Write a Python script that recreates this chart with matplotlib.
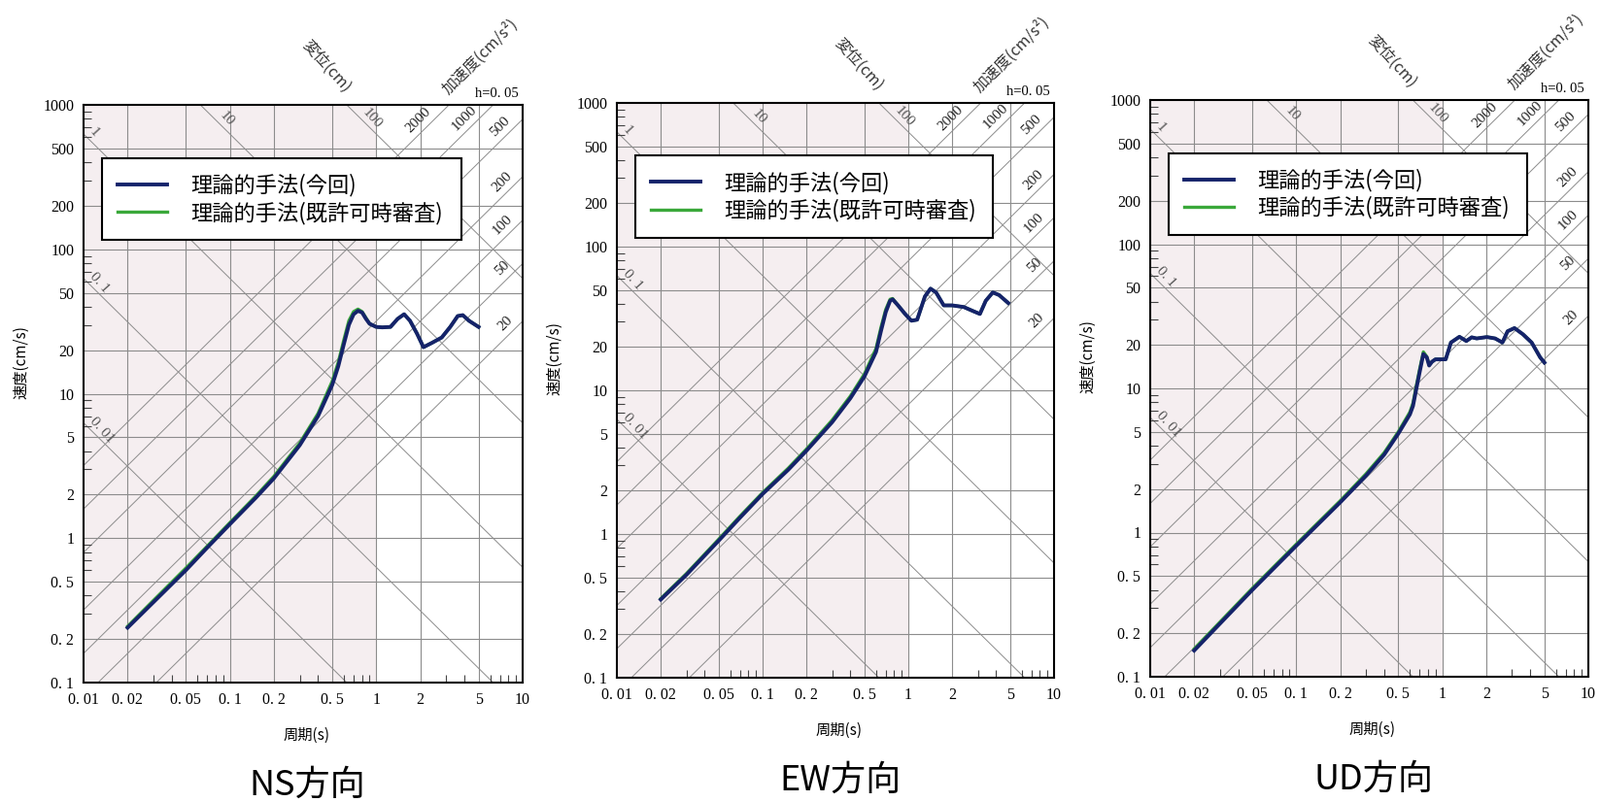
import numpy as np
import matplotlib.pyplot as plt

plt.rcParams['font.family'] = ['Noto Sans CJK JP', 'DejaVu Sans']

# period (s) / pseudo-velocity (cm/s)
T_ns = [0.02, 0.03, 0.05, 0.07, 0.1, 0.15, 0.2, 0.3, 0.4, 0.5, 0.55, 0.6, 0.65, 0.7, 0.75, 0.8,
        0.85, 0.9, 1.0, 1.1, 1.25, 1.4, 1.55, 1.7, 1.9, 2.1, 2.4, 2.8, 3.2, 3.6, 3.9, 4.3, 5.0]
V_ns = [0.24, 0.36, 0.6, 0.86, 1.25, 1.9, 2.6, 4.4, 7.0, 11.5, 15.5, 22, 30, 35.5, 37.5, 36.5,
        33, 30.5, 29, 28.8, 29, 33, 35.5, 32, 26, 21, 22.5, 24.5, 29, 34.5, 35, 32, 29]
V_ns_old = [0.245, 0.37, 0.62, 0.88, 1.28, 1.95, 2.68, 4.55, 7.3, 12.2, 16.5, 23.5, 32, 37, 38.5, 37,
            33.5, 30.5, 29, 28.8, 29, 33, 35.5, 32, 26, 21, 22.5, 24.5, 29, 34.5, 35, 32, 29]

T_ew = [0.02, 0.03, 0.05, 0.07, 0.1, 0.15, 0.2, 0.3, 0.4, 0.5, 0.6, 0.65, 0.7, 0.75, 0.78, 0.85,
        0.95, 1.05, 1.15, 1.3, 1.42, 1.55, 1.75, 2.0, 2.4, 2.8, 3.1, 3.4, 3.8, 4.2, 4.85]
V_ew = [0.35, 0.52, 0.9, 1.3, 1.9, 2.8, 3.8, 6.0, 8.8, 12.5, 18.5, 26, 35, 42, 43, 39,
        34, 30.5, 31, 45, 51, 48, 39, 39, 38, 35.5, 34, 42, 48, 46, 40.5]
V_ew_old = [0.355, 0.53, 0.92, 1.33, 1.94, 2.87, 3.9, 6.2, 9.1, 13.0, 19.5, 27.5, 36.5, 43, 43.5, 39,
            34, 30.5, 31, 45, 51, 48, 39, 39, 38, 35.5, 34, 42, 48, 46, 40.5]

T_ud = [0.02, 0.05, 0.1, 0.2, 0.3, 0.4, 0.5, 0.6, 0.63, 0.665, 0.7, 0.742, 0.783, 0.813, 0.85,
        0.897, 1.055, 1.146, 1.31, 1.46, 1.59, 1.72, 2.02, 2.3, 2.58, 2.8, 3.12, 3.57, 4.09, 4.68, 5.0]
V_ud = [0.152, 0.40, 0.81, 1.62, 2.48, 3.47, 4.86, 6.6, 7.56, 10, 13, 17.3, 16.4, 14.4, 15.3,
        15.9, 15.9, 20.8, 22.8, 21.3, 22.6, 22.2, 22.7, 22.2, 20.8, 24.9, 26.2, 23.7, 20.8, 16.4, 15.1]
V_ud_old = [0.156, 0.41, 0.83, 1.66, 2.55, 3.58, 5.0, 6.85, 7.9, 10.5, 13.6, 17.9, 16.6, 14.5, 15.3,
            15.9, 15.9, 20.8, 22.8, 21.3, 22.6, 22.2, 22.7, 22.2, 20.8, 24.9, 26.2, 23.7, 20.8, 16.4, 15.1]

titles = ['NS方向', 'EW方向', 'UD方向']
legend_labels = ['理論的手法(今回)', '理論的手法(既許可時審査)']

x_ticks = [0.01, 0.02, 0.05, 0.1, 0.2, 0.5, 1, 2, 5, 10]
x_ticklabels = ['0. 01', '0. 02', '0. 05', '0. 1', '0. 2', '0. 5', '1', '2', '5', '10']
y_ticks = [0.1, 0.2, 0.5, 1, 2, 5, 10, 20, 50, 100, 200, 500, 1000]
y_ticklabels = ['0. 1', '0. 2', '0. 5', '1', '2', '5', '10', '20', '50', '100', '200', '500', '1000']

disp_lines = [0.01, 0.1, 1, 10, 100]           # cm
disp_labels = ['0. 01', '0. 1', '1', '10', '100']
acc_lines = [20, 50, 100, 200, 500, 1000, 2000]  # cm/s2

NAVY = '#15236a'
GREEN = '#3aa83a'
GRID = '#8c8c8c'
SERIF = 'Liberation Serif'

# pixel boxes of the three frames: left, top, right, bottom
boxes = [(86, 108, 538, 703), (635, 106, 1085, 698), (1184, 103, 1635, 697)]
W, H = 1647, 826

fig = plt.figure(figsize=(W / 100, H / 100), dpi=100)


def panel(ax, T, V, Vold, title):
    ax.set_xscale('log')
    ax.set_yscale('log')
    ax.set_xlim(0.01, 10)
    ax.set_ylim(0.1, 1000)
    ax.axvspan(0.01, 1, color='#f5eef0', zorder=0, lw=0)

    for x in x_ticks[1:-1]:
        ax.axvline(x, color=GRID, lw=0.8, zorder=1)
    for y in y_ticks[1:-1]:
        ax.axhline(y, color=GRID, lw=0.8, zorder=1)

    tt = np.logspace(-2, 1, 50)
    for d in disp_lines:
        ax.plot(tt, 2 * np.pi * d / tt, color=GRID, lw=0.7, zorder=1)
    for a in acc_lines:
        ax.plot(tt, a * tt / (2 * np.pi), color=GRID, lw=0.7, zorder=1)

    # labels on the diagonal lines
    for d, lab, t in zip(disp_lines, disp_labels, [0.0134, 0.0128, 0.0118, 0.0946, 0.935]):
        ax.text(t, 2 * np.pi * d / t * 1.2, lab, rotation=-48, ha='center', va='center',
                fontsize=11, family=SERIF, color='#555555', zorder=2)
    for a, t in zip(acc_lines, [7.6, 7.3, 7.3, 7.2, 7.0, 4.0, 1.95]):
        ax.text(t, a * t / (2 * np.pi) * 1.27, str(a), rotation=45, ha='center', va='center',
                fontsize=11, family=SERIF, color='#222222', zorder=2)

    ax.plot(T, Vold, color=GREEN, lw=2.4, zorder=3, label=legend_labels[1])
    ax.plot(T, V, color=NAVY, lw=2.8, zorder=4, label=legend_labels[0])

    ax.set_xticks(x_ticks)
    ax.set_xticklabels(x_ticklabels, family=SERIF, fontsize=11.5)
    ax.set_yticks(y_ticks)
    ax.set_yticklabels(y_ticklabels, family=SERIF, fontsize=11.5)
    ax.set_xticks([m * 10.0 ** e for e in (-2, -1, 0) for m in (3, 4, 6, 7, 8, 9)], minor=True)
    ax.set_yticks([m * 10.0 ** e for e in (-1, 0, 1, 2) for m in (3, 4, 6, 7, 8, 9)], minor=True)
    ax.xaxis.set_minor_formatter(plt.NullFormatter())
    ax.yaxis.set_minor_formatter(plt.NullFormatter())
    ax.tick_params(which='major', length=0, pad=7)
    ax.tick_params(which='minor', direction='in', length=6, width=0.8, color='#444444')
    for s in ax.spines.values():
        s.set_linewidth(1.5)

    handles, labels = ax.get_legend_handles_labels()
    leg = ax.legend(handles[::-1], labels[::-1], loc='upper left',
                    bbox_to_anchor=(0.042, 0.773, 0.819, 0.135), mode='expand',
                    borderaxespad=0, fontsize=16, handlelength=2.3, handletextpad=1.1,
                    borderpad=0.72, labelspacing=0.22, fancybox=False, framealpha=1,
                    edgecolor='black')
    leg.get_frame().set_linewidth(1.5)
    leg.set_zorder(5)

    ax.text(0.553, 1.067, '変位(cm)', rotation=-48, ha='center', va='center',
            transform=ax.transAxes, fontsize=11.5, color='#333333')
    ax.text(0.903, 1.084, '加速度(cm/s²)', rotation=45, ha='center', va='center',
            transform=ax.transAxes, fontsize=11.5, color='#333333')
    ax.text(0.99, 1.008, 'h=0. 05', ha='right', va='bottom', transform=ax.transAxes,
            fontsize=10.5, family=SERIF)
    ax.text(-0.142, 0.555, '速度(cm/s)', rotation=90, ha='center', va='center',
            transform=ax.transAxes, fontsize=11)
    ax.text(0.507, -0.092, '周期(s)', ha='center', va='center',
            transform=ax.transAxes, fontsize=11)
    ax.text(0.51, -0.178, title, ha='center', va='center',
            transform=ax.transAxes, fontsize=26)


data = [(T_ns, V_ns, V_ns_old), (T_ew, V_ew, V_ew_old), (T_ud, V_ud, V_ud_old)]
for (l, t, r, b), (T, V, Vold), title in zip(boxes, data, titles):
    ax = fig.add_axes([l / W, 1 - b / H, (r - l) / W, (b - t) / H])
    panel(ax, T, V, Vold, title)

fig.savefig('out.png', dpi=100)
